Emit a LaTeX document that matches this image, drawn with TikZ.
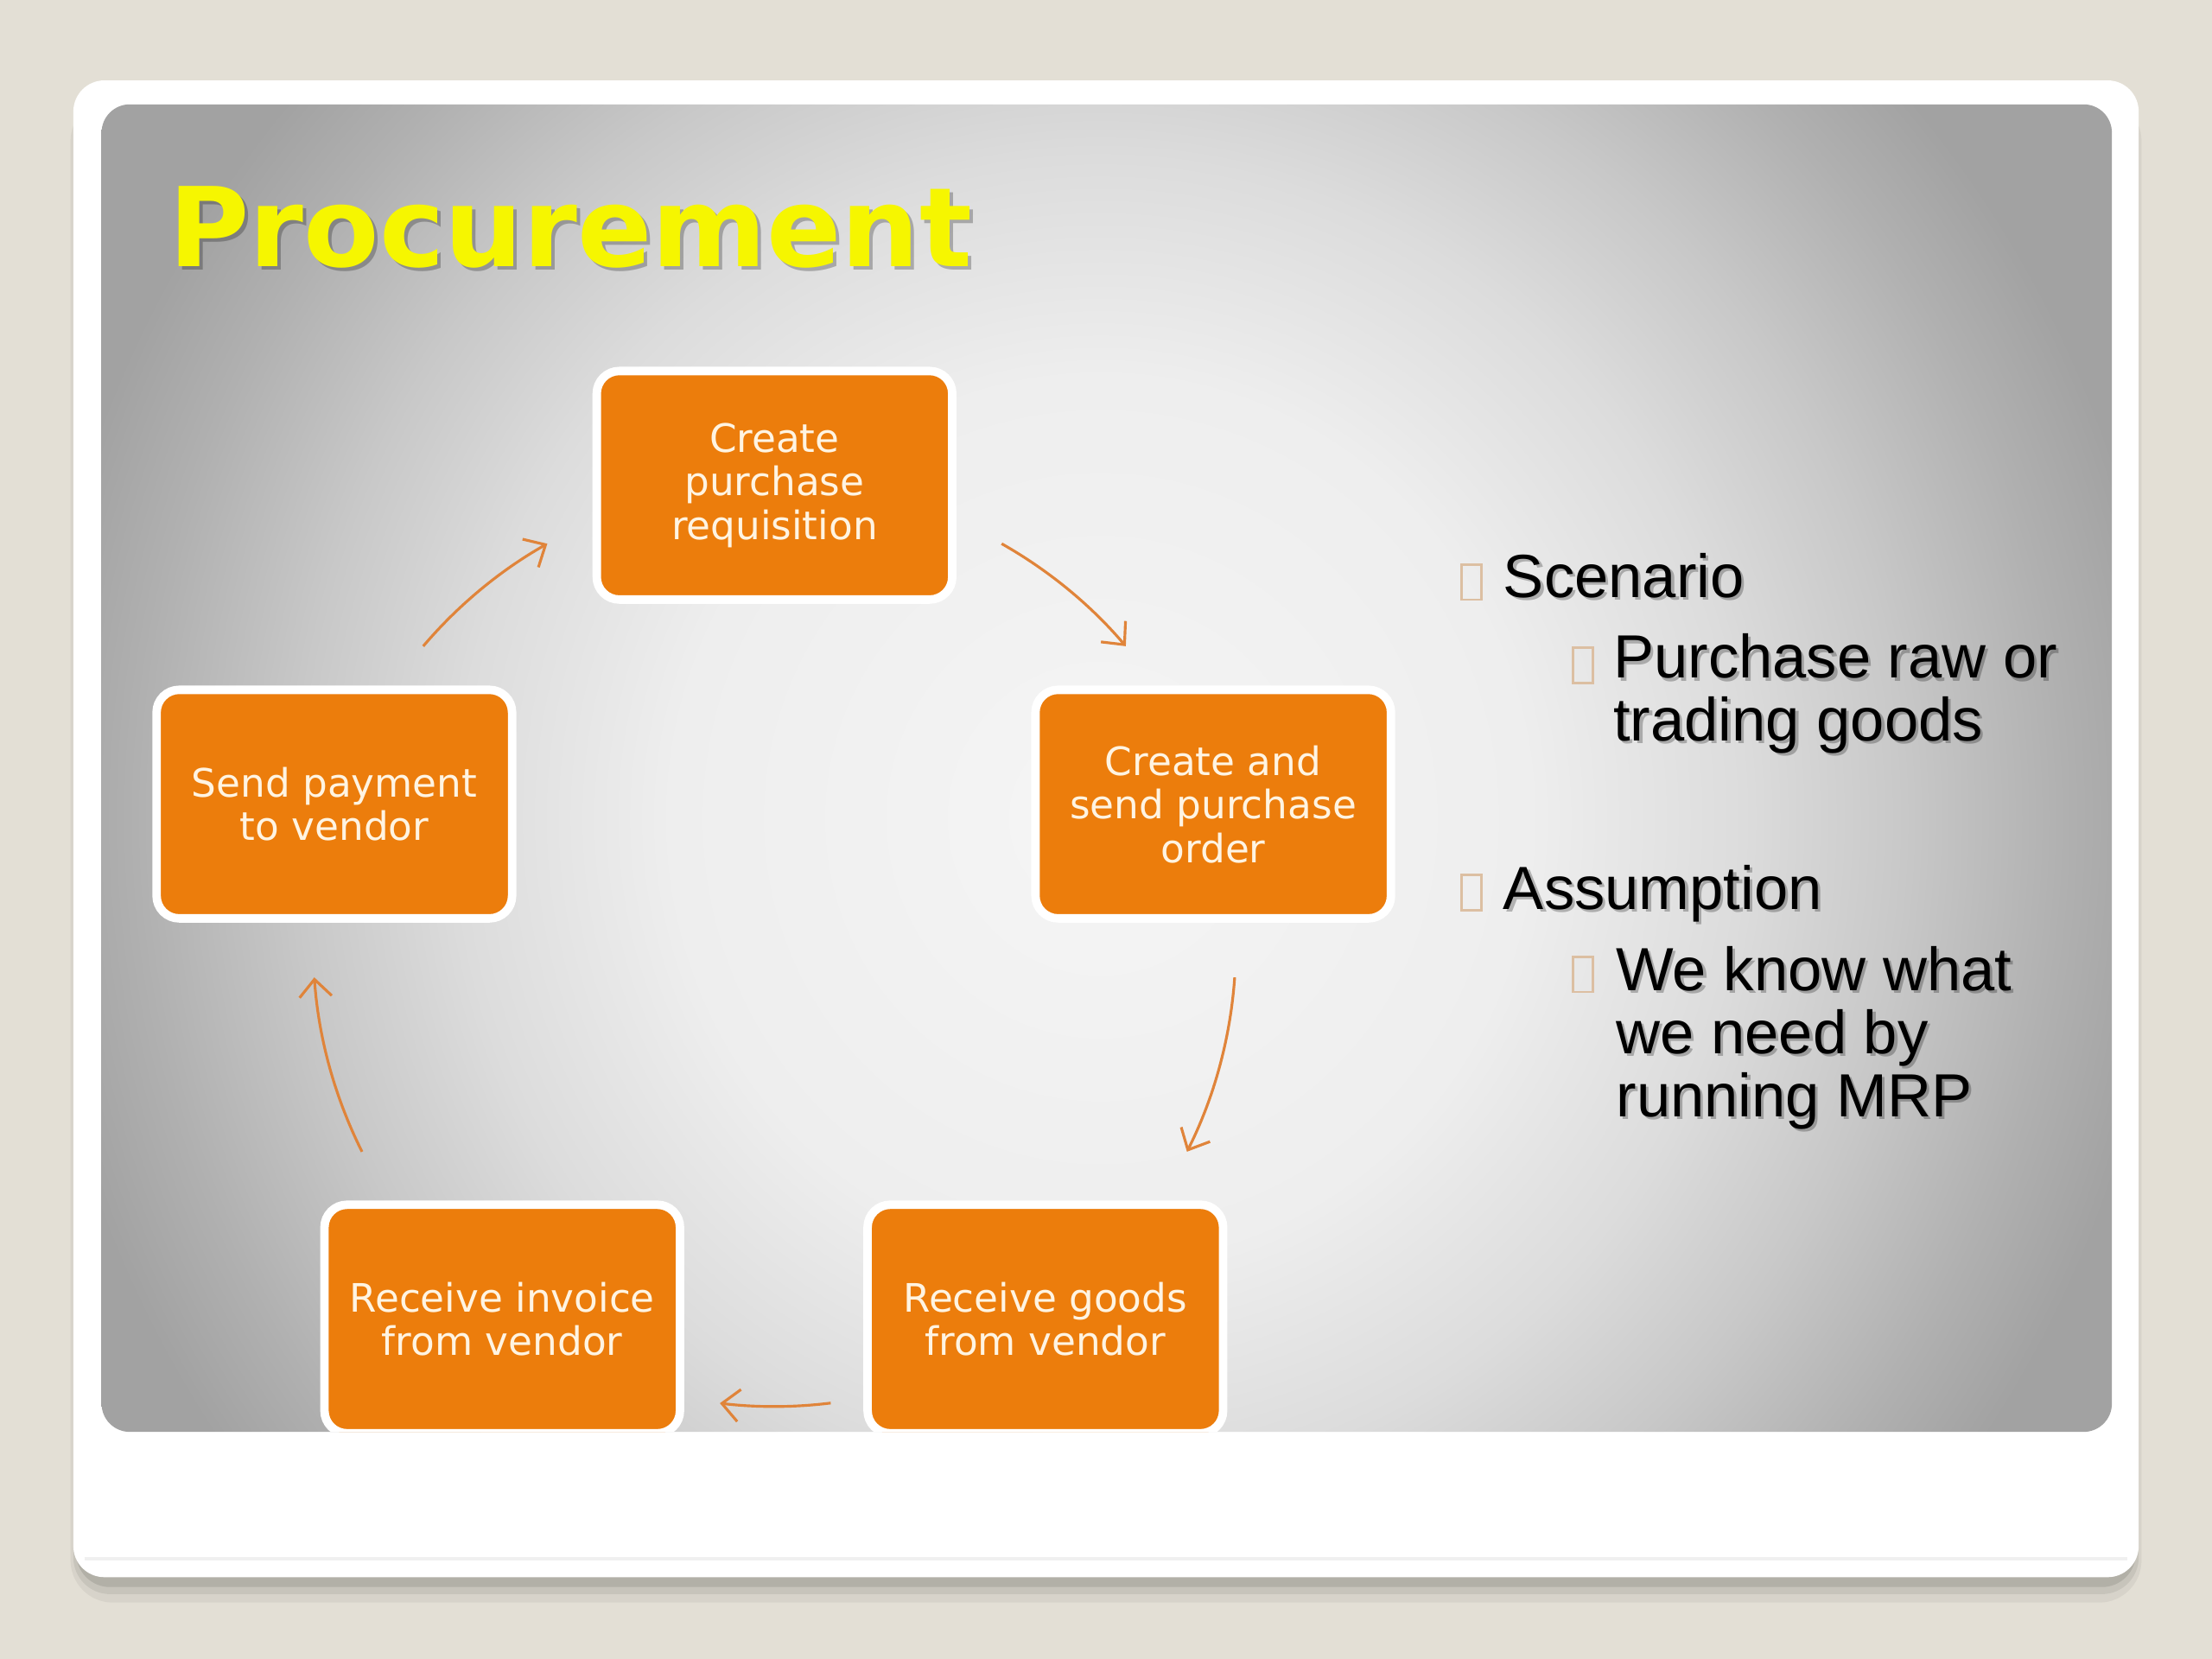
\documentclass[tikz,border=0pt]{standalone}
\usepackage{fontspec}
\setmainfont{Liberation Sans}
\newfontfamily\boxfont{DejaVu Sans}
\usepackage{xcolor}
\usetikzlibrary{arrows.meta}

\definecolor{beige}{HTML}{E3DFD5}
\definecolor{boxorange}{HTML}{EC7D0C}
\definecolor{arroworange}{HTML}{E0843A}
\definecolor{cream}{HTML}{FFF4E2}
\definecolor{titleyellow}{HTML}{F6F600}
\definecolor{tofutan}{HTML}{DCBFA2}
\definecolor{panelA}{HTML}{F5F5F5}
\definecolor{panelB}{HTML}{EEEEEE}
\definecolor{panelC}{HTML}{DCDCDC}
\definecolor{panelD}{HTML}{C8C8C8}
\definecolor{panelE}{HTML}{B0B0B0}
\definecolor{panelF}{HTML}{A2A2A2}

\pgfdeclareradialshading{panelshade}{\pgfpoint{0bp}{0bp}}{color(0bp)=(panelA); color(8bp)=(panelB); color(12bp)=(panelC); color(15bp)=(panelD); color(18bp)=(panelE); color(20bp)=(panelF); color(50bp)=(panelF)}

\begin{document}
\begin{tikzpicture}[x=1cm,y=1cm,
					stage/.style={rectangle,rounded corners=0.16cm,fill=boxorange,draw=white,
					  line width=0.06cm,minimum width=2.52cm,minimum height=1.62cm,
					  align=center,text=cream,font=\boxfont\fontsize{7.9pt}{8.8pt}\selectfont},
					flow/.style={arroworange,line width=0.55pt,-{Straight Barb[length=3.5pt,width=6.5pt]}},
					point/.style={anchor=base west,align=left,inner sep=0pt,
					  font=\fontsize{12.3pt}{12.7pt}\selectfont},
					shadowed/.style={text=black,opacity=0.25},
					tofu/.style={draw=tofutan,line width=0.5pt,minimum width=0.14cm,
					  minimum height=0.25cm,inner sep=0pt,anchor=south west}]

  \useasboundingbox (0,0) rectangle (15.68,-11.76);
  \fill[beige] (0,0) rectangle (15.68,-11.76);

  % card and its shadow
  \fill[black,opacity=0.05,rounded corners=0.3cm] (0.50,-0.70) rectangle (15.18,-11.36);
  \fill[black,opacity=0.07,rounded corners=0.26cm] (0.52,-0.70) rectangle (15.16,-11.30);
  \fill[black,opacity=0.10,rounded corners=0.24cm] (0.54,-0.70) rectangle (15.14,-11.25);
  \fill[white,rounded corners=0.22cm] (0.52,-0.57) rectangle (15.16,-11.18);
  \draw[black!6,line width=0.8pt] (0.60,-11.05) -- (15.08,-11.05);

  \begin{scope}
  \clip[rounded corners=0.2cm] (0.72,-0.74) rectangle (14.97,-10.15);
  \shade[shading=panelshade] (7.8,-5.8) ellipse (9.5cm and 9.75cm);

  % title
  \node (titlesh) [anchor=base west,inner sep=0pt,shadowed,
    font=\boxfont\bfseries\fontsize{22.2pt}{26pt}\selectfont] at (1.215,-1.915) {Procurement};
  \node (title) [anchor=base west,inner sep=0pt,text=titleyellow,
    font=\boxfont\bfseries\fontsize{22.2pt}{26pt}\selectfont] at (1.19,-1.89) {Procurement};

  % cycle
  \node[stage] (req) at (5.49,-3.44) {Create\\purchase\\requisition};
  \node[stage] (pay) at (2.37,-5.70) {Send payment\\to vendor};
  \node[stage] (po) [right of=pay,node distance=6.23cm] {Create and\\send purchase\\order};
  \node[stage] (inv) at (3.56,-9.35) {Receive invoice\\from vendor};
  \node[stage] (goods) [right of=inv,node distance=3.85cm] {Receive goods\\from vendor};

  \coordinate (hub) at (5.49,-6.70);
  \draw[flow] ([shift={(139.6:3.27)}]hub) arc[start angle=139.6,end angle=119.5,radius=3.27];
  \draw[flow] ([shift={(60.5:3.27)}]hub) arc[start angle=60.5,end angle=40.4,radius=3.27];
  \draw[flow] ([shift={(-4:3.27)}]hub) arc[start angle=-4,end angle=-26.6,radius=3.27];
  \draw[flow] ([shift={(-83:3.27)}]hub) arc[start angle=-83,end angle=-96.8,radius=3.27];
  \draw[flow] ([shift={(-153.4:3.27)}]hub) arc[start angle=-153.4,end angle=-176,radius=3.27];

  % bullet list (base = last line)
  \node[point,shadowed] (scensh) at (10.67,-4.256) {Scenario};
  \node[point,shadowed] (buysh) at (11.45,-5.273) {Purchase raw or\\trading goods};
  \node[point,shadowed] (assumsh) at (10.67,-6.466) {Assumption};
  \node[point,shadowed] (mrpsh) at (11.47,-7.936) {We know what\\we need by\\running MRP};

  \node[point] (scen) at (10.65,-4.236) {Scenario};
  \node[point] (buy) at (11.43,-5.253) {Purchase raw or\\trading goods};
  \node[point] (assum) at (10.65,-6.446) {Assumption};
  \node[point] (mrp) at (11.45,-7.916) {We know what\\we need by\\running MRP};

  \node[tofu] (b1) at (10.35,-4.26) {};
  \node[tofu] (b2) at (11.14,-4.85) {};
  \node[tofu] (b3) at (10.35,-6.46) {};
  \node[tofu] (b4) at (11.14,-7.04) {};
  \end{scope}
\end{tikzpicture}
\end{document}
